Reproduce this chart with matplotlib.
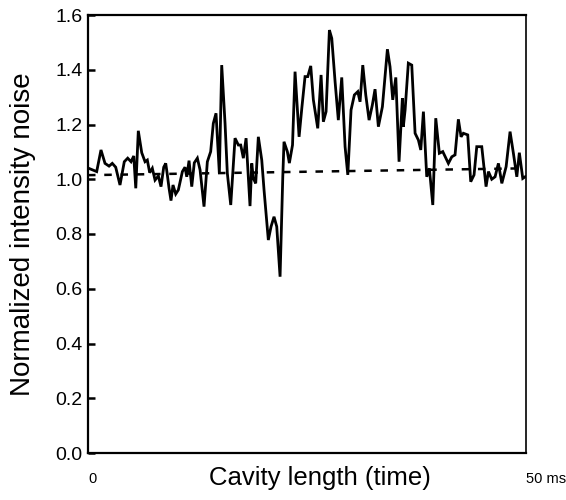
import numpy as np
import matplotlib
matplotlib.use("Agg")
import matplotlib.pyplot as plt

plt.rcParams['font.family'] = ['Liberation Sans', 'DejaVu Sans']

# time along the cavity sweep (ms) and normalized noise
time_ms = [0, 0.99, 1.48, 1.94, 2.40, 2.77, 3.16, 3.65, 4.14, 4.53,
           4.91, 5.22, 5.45, 5.74, 6.13, 6.51, 6.77, 7.04, 7.34, 7.65,
           8.03, 8.33, 8.64, 8.87, 9.02, 9.25, 9.47, 9.70, 10.01, 10.31,
           10.77, 11.07, 11.27, 11.53, 11.84, 12.13, 12.48, 12.79, 13.24, 13.62,
           14.00, 14.30, 14.61, 14.99, 15.26, 15.64, 15.90, 16.29, 16.59, 16.78,
           17.16, 17.43, 17.73, 18.04, 18.30, 18.49, 18.69, 18.87, 19.14, 19.44,
           19.83, 20.09, 20.58, 20.89, 21.23, 21.54, 21.92, 22.23, 22.37, 22.75,
           22.98, 23.34, 23.63, 24.09, 24.40, 24.77, 25.08, 25.42, 25.72, 26.22,
           26.60, 26.86, 27.17, 27.55, 27.82, 28.20, 28.57, 28.96, 29.34, 29.65,
           30.02, 30.40, 30.79, 31.05, 31.36, 31.70, 32.08, 32.45, 32.76, 33.14,
           33.60, 34.17, 34.47, 34.78, 35.13, 35.50, 35.88, 35.99, 36.19, 36.56,
           36.95, 37.33, 37.71, 37.98, 38.28, 38.66, 38.96, 39.35, 39.69, 40.10,
           40.49, 41.13, 41.52, 41.89, 42.27, 42.58, 42.84, 43.34, 43.68, 44.06,
           44.37, 44.94, 45.43, 45.70, 46.08, 46.46, 46.84, 47.23, 47.72, 48.17,
           48.55, 48.94, 49.23, 49.62, 49.89]
noise = [1.041, 1.028, 1.107, 1.058, 1.048, 1.058, 1.044, 0.979, 1.064, 1.077,
         1.064, 1.085, 0.967, 1.177, 1.097, 1.064, 1.070, 1.024, 1.040, 0.997,
         1.012, 0.973, 1.044, 1.058, 1.024, 0.967, 0.922, 0.979, 0.946, 0.961,
         1.028, 1.044, 1.009, 1.068, 0.973, 1.060, 1.077, 1.034, 0.900, 1.064,
         1.101, 1.204, 1.241, 1.022, 1.417, 1.204, 1.022, 0.906, 1.058, 1.150,
         1.125, 1.125, 1.077, 1.150, 1.009, 0.902, 1.058, 1.003, 0.985, 1.155,
         1.070, 0.961, 0.778, 0.827, 0.863, 0.827, 0.644, 1.009, 1.137, 1.101,
         1.059, 1.125, 1.393, 1.155, 1.259, 1.375, 1.375, 1.414, 1.290, 1.186,
         1.381, 1.210, 1.247, 1.545, 1.515, 1.356, 1.216, 1.372, 1.119, 1.016,
         1.253, 1.308, 1.320, 1.283, 1.417, 1.308, 1.216, 1.271, 1.329, 1.192,
         1.265, 1.475, 1.411, 1.290, 1.372, 1.064, 1.296, 1.192, 1.253, 1.424,
         1.417, 1.168, 1.143, 1.107, 1.247, 1.009, 1.040, 0.906, 1.223, 1.095,
         1.101, 1.058, 1.082, 1.089, 1.219, 1.155, 1.168, 1.162, 0.991, 1.016,
         1.119, 1.119, 0.973, 1.028, 1.000, 1.009, 1.058, 0.985, 1.046, 1.174,
         1.095, 1.009, 1.097, 1.003, 1.009]

# dashed reference level (start and end of sweep)
ref_time = [0, 50]
ref_level = [1.015, 1.04]

yticks = [0.0, 0.2, 0.4, 0.6, 0.8, 1.0, 1.2, 1.4, 1.6]

fig = plt.figure(figsize=(5.66, 5.0), dpi=100)
ax = fig.add_axes([0.1555, 0.094, 0.774, 0.876])

ax.plot(ref_time, ref_level, color='black', lw=1.8, ls=(0, (3, 3.5)))
ax.plot(time_ms, noise, color='black', lw=2.0, solid_joinstyle='miter')

ax.set_xlim(0, 50)
ax.set_ylim(0, 1.6)
ax.set_yticks(yticks, [f'{v:.1f}' for v in yticks])
ax.set_xticks([0, 50], ['0', '50 ms'])
for lab in ax.get_xticklabels():
    lab.set_horizontalalignment('left')

ax.tick_params(axis='y', direction='in', length=5, width=1.8, labelsize=14, pad=4)
ax.tick_params(axis='x', length=0, labelsize=10.5, pad=14)

for s in ['left', 'bottom', 'top']:
    ax.spines[s].set_linewidth(1.6)
ax.spines['right'].set_linewidth(1.2)

ax.set_ylabel('Normalized intensity noise', fontsize=20)
ax.yaxis.set_label_coords(-0.118, 0.5)
ax.set_xlabel('Cavity length (time)', fontsize=18.5)
ax.xaxis.set_label_coords(0.53, -0.03)

fig.savefig('out.png', dpi=100)
